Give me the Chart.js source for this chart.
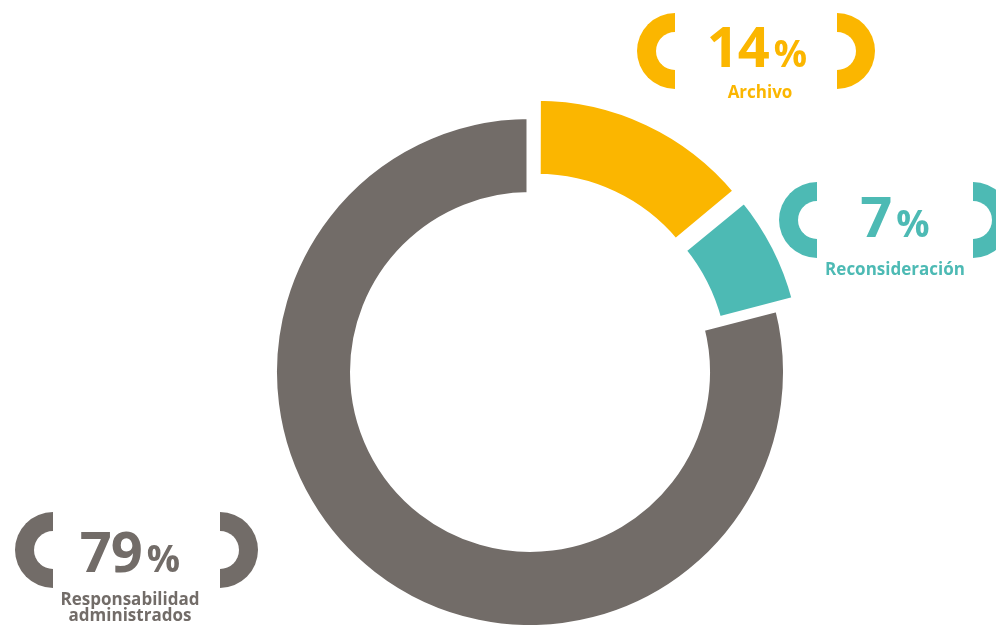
<!DOCTYPE html>
<html><head><meta charset="utf-8">
<script src="https://cdn.jsdelivr.net/npm/chart.js@4"></script>
<style>
html,body{margin:0;padding:0;background:#fff;width:996px;height:625px;overflow:hidden;font-family:"Open Sans",Lato,sans-serif;}
#c{position:absolute;left:0;top:0;}
.num{position:absolute;width:220px;text-align:center;font-weight:700;font-size:56px;line-height:56px;white-space:nowrap;letter-spacing:-1px;}
.num .pc{font-size:37px;margin-left:5px;letter-spacing:0;}
.cat{position:absolute;width:220px;text-align:center;font-weight:700;font-size:17px;line-height:16px;white-space:nowrap;}
.br{position:absolute;width:19px;height:38px;border-style:solid;border-width:19px;}
.brL{border-right:none;border-radius:38px 0 0 38px;}
.brR{border-left:none;border-radius:0 38px 38px 0;}
</style>
</head><body>
<canvas id="c" width="996" height="625"></canvas>
<script>
// ---- data ----
const categories = [['Archivo'], ['Reconsideración'], ['Responsabilidad', 'administrados']];
const values = [14, 7, 79];
const percentLabels = ['14', '7', '79'];
const colors = ['#FBB600', '#4DBAB4', '#726C68'];

// ---- layout (not data) ----
const sliceOffsets = [64, 48, 0];
const B = 7;
const labelBoxes = [
  {numCx: 757, catCx: 760, numTop: 17, catTop: 84, brL: 637, brR: 837, brTop: 13},
  {numCx: 895, catCx: 895, numTop: 187, catTop: 261, brL: 779, brR: 973, brTop: 182},
  {numCx: 130, catCx: 130, numTop: 522, catTop: 591, brL: 15, brR: 220, brTop: 512}
];

new Chart(document.getElementById('c'), {
  type: 'doughnut',
  data: {
    labels: categories.map(c => c.join(' ')),
    datasets: [{
      data: values,
      backgroundColor: colors,
      borderColor: '#ffffff',
      borderWidth: B,
      borderJoinStyle: 'round',
      offset: sliceOffsets,
      hoverOffset: 0
    }]
  },
  options: {
    responsive: false,
    animation: false,
    events: [],
    radius: 253 + B / 2,
    cutout: ((180 - B / 2) / (253 + B / 2) * 100) + '%',
    layout: {padding: {left: 64, top: 119, right: 0, bottom: 0}},
    plugins: {legend: {display: false}, tooltip: {enabled: false}}
  }
});

labelBoxes.forEach((p, i) => {
  const n = document.createElement('div');
  n.className = 'num';
  n.style.left = (p.numCx - 110) + 'px';
  n.style.top = p.numTop + 'px';
  n.style.color = colors[i];
  n.innerHTML = percentLabels[i] + '<span class="pc">%</span>';
  document.body.appendChild(n);
  const c = document.createElement('div');
  c.className = 'cat';
  c.style.left = (p.catCx - 110) + 'px';
  c.style.top = p.catTop + 'px';
  c.style.color = colors[i];
  c.innerHTML = categories[i].join('<br>');
  document.body.appendChild(c);
  [['brL', p.brL], ['brR', p.brR]].forEach(([cls, x]) => {
    const b = document.createElement('div');
    b.className = 'br ' + cls;
    b.style.left = x + 'px';
    b.style.top = p.brTop + 'px';
    b.style.borderColor = colors[i];
    document.body.appendChild(b);
  });
});
</script>
</body></html>
